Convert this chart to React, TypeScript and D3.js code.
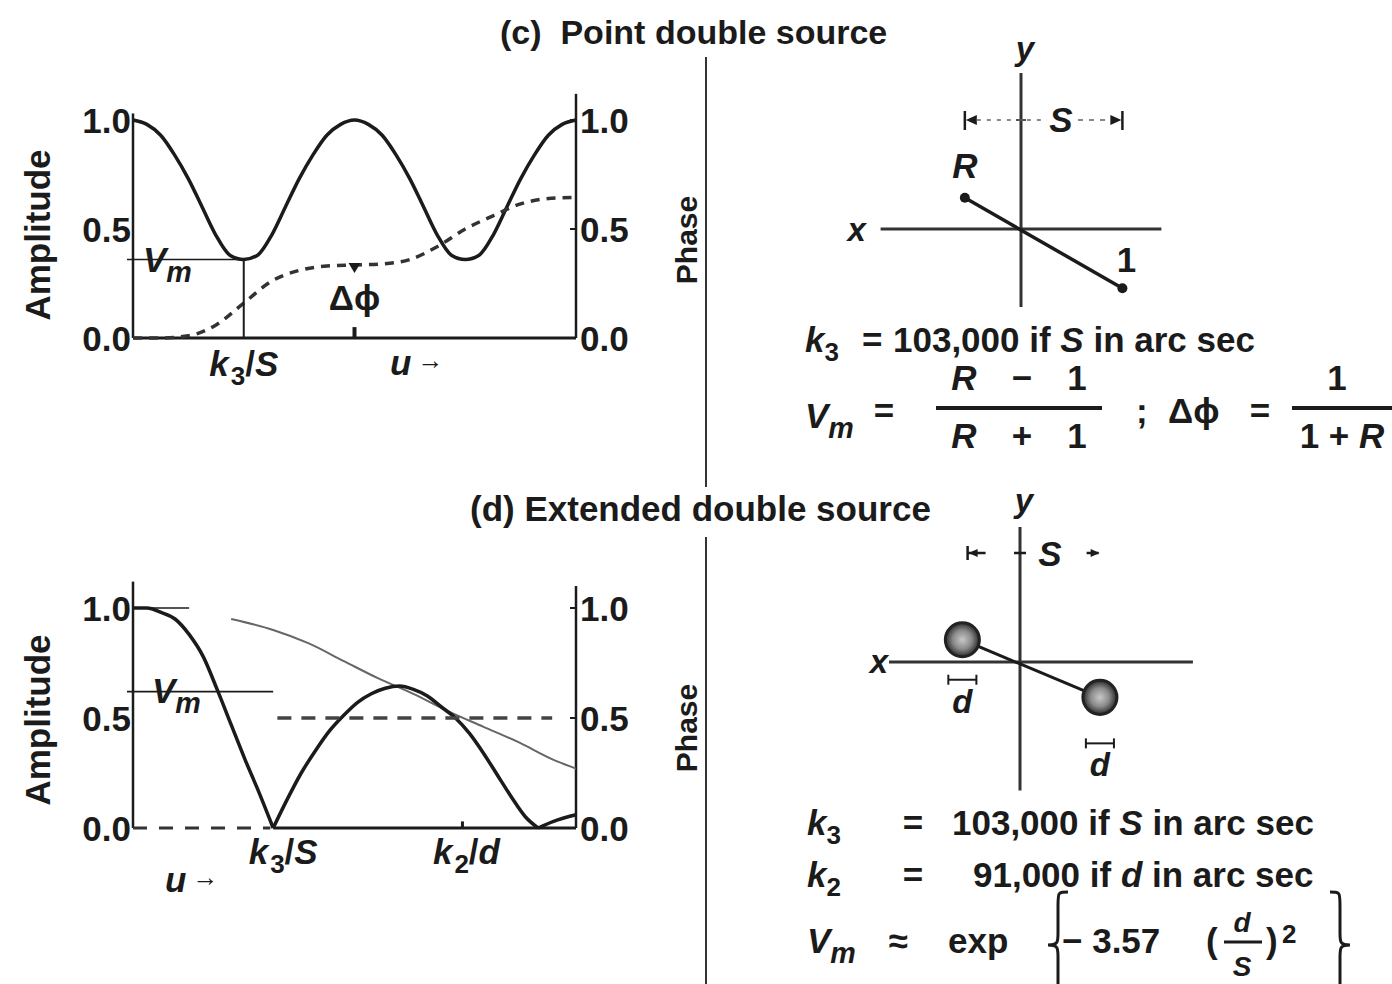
import React from "react";
import * as d3 from "d3";

const FONT = "'Liberation Sans', Arial, Helvetica, 'DejaVu Sans', sans-serif";
const INK = "#1b1b1b";

// (c) Point double source, u in units of k3/S
const cU = [0, 0.125, 0.25, 0.375, 0.5, 0.625, 0.75, 0.875, 1, 1.125, 1.25, 1.375, 1.5, 1.625, 1.75, 1.875, 2,
  2.125, 2.25, 2.375, 2.5, 2.625, 2.75, 2.875, 3, 3.125, 3.25, 3.375, 3.5, 3.625, 3.75, 3.875, 4];
const cAmplitude = [1.0, 0.98, 0.93, 0.84, 0.73, 0.6, 0.47, 0.38, 0.36, 0.38, 0.47, 0.6, 0.73, 0.84, 0.93, 0.98, 1.0,
  0.98, 0.93, 0.84, 0.73, 0.6, 0.47, 0.38, 0.36, 0.38, 0.47, 0.6, 0.73, 0.84, 0.93, 0.98, 1.0];
const cPhaseU = [0, 0.25, 0.5, 0.75, 1, 1.25, 1.5, 1.75, 2, 2.25, 2.5, 2.75, 3, 3.25, 3.5, 3.75, 4];
const cPhase = [0, 0, 0.01, 0.06, 0.16, 0.26, 0.31, 0.33, 0.335, 0.34, 0.36, 0.42, 0.5, 0.56, 0.615, 0.64, 0.645];
const cVm = 0.36;
const cDeltaPhiU = 2;
const cDeltaPhi = 0.335;

// (d) Extended double source
const dU = [0, 0.1, 0.2, 0.3, 0.4, 0.5, 0.6, 0.7, 0.8, 0.9, 1.0, 1.1, 1.2, 1.3, 1.4, 1.5, 1.6, 1.7, 1.8, 1.9, 2.0,
  2.1, 2.2, 2.3, 2.4, 2.5, 2.6, 2.7, 2.8, 2.89, 3.0, 3.16];
const dAmplitude = [1.0, 1.0, 0.98, 0.95, 0.88, 0.78, 0.63, 0.47, 0.31, 0.16, 0, 0.13, 0.25, 0.35, 0.44, 0.51, 0.57,
  0.61, 0.635, 0.645, 0.63, 0.6, 0.55, 0.5, 0.43, 0.34, 0.24, 0.14, 0.05, 0, 0.03, 0.06];
const dEnvelopeU = [0.7, 1.0, 1.25, 1.5, 1.75, 2.0, 2.25, 2.5, 2.75, 3.0, 3.16];
const dEnvelope = [0.95, 0.9, 0.84, 0.76, 0.68, 0.61, 0.53, 0.46, 0.39, 0.31, 0.27];
const dPhaseLowU = [0, 0.98];
const dPhaseHighU = [1.03, 2.99];
const dPhaseLevels = [0, 0.5];
const dVm = 0.62;
const dK2U = 2.35;

const ampTicks = [0, 0.5, 1];

// sky-plane sketches, in units of the separation S
const cSources = [
  { label: "R", x: -0.36, y: 0.2 },
  { label: "1", x: 0.65, y: -0.38 },
];
const dSources = [
  { x: -0.44, y: 0.17 },
  { x: 0.61, y: -0.27 },
];
const dSourceSize = 0.13;

const txt = { fontFamily: FONT, fontWeight: "bold", fill: INK } as const;

const pairs = (us: number[], vs: number[]) => us.map((u, i) => [u, vs[i]] as [number, number]);

function brace(xTip: number, xOuter: number, yTop: number, yBot: number) {
  const xm = (xTip + xOuter) / 2;
  const ym = (yTop + yBot) / 2;
  return `M${xOuter},${yTop} C${xm},${yTop} ${xm},${yTop} ${xm},${yTop + 14} L${xm},${ym - 12} C${xm},${ym - 3} ${xm},${ym} ${xTip},${ym} C${xm},${ym} ${xm},${ym + 3} ${xm},${ym + 12} L${xm},${yBot - 14} C${xm},${yBot} ${xm},${yBot} ${xOuter},${yBot}`;
}

function VmLabel({ x, y, size = 35 }: { x: number; y: number; size?: number }) {
  return (
    <text x={x} y={y} {...txt} fontSize={size}>
      <tspan fontStyle="italic">V</tspan>
      <tspan fontStyle="italic" fontSize={size * 0.82} dy={size * 0.28}>m</tspan>
    </text>
  );
}

function KLabel({ x, y, sub, den, anchor = "middle" }: { x: number; y: number; sub: string; den: string; anchor?: string }) {
  return (
    <text x={x} y={y} {...txt} fontSize={35} textAnchor={anchor}>
      <tspan fontStyle="italic">k</tspan>
      <tspan fontSize={26} dy={9} dx={2}>{sub}</tspan>
      <tspan dy={-9}>/</tspan>
      <tspan fontStyle="italic">{den}</tspan>
    </text>
  );
}

function ULabel({ x, y }: { x: number; y: number }) {
  return (
    <text x={x} y={y} {...txt} fontSize={35}>
      <tspan fontStyle="italic">u</tspan>
      <tspan fontSize={26} dx={6} dy={-6}>→</tspan>
    </text>
  );
}

export default function App() {
  // scales for the two amplitude/phase plots
  const cX = d3.scaleLinear().domain([0, 4]).range([133, 576]);
  const cY = d3.scaleLinear().domain([0, 1]).range([338, 120]);
  const dX = d3.scaleLinear().domain([0, 3.16]).range([133, 576]);
  const dY = d3.scaleLinear().domain([0, 1]).range([828, 608]);

  const cLine = d3.line<[number, number]>().x((d) => cX(d[0])).y((d) => cY(d[1]));
  const dLine = d3.line<[number, number]>().x((d) => dX(d[0])).y((d) => dY(d[1]));

  const cAmpPath = cLine.curve(d3.curveMonotoneX)(pairs(cU, cAmplitude)) || "";
  const cPhasePath = cLine.curve(d3.curveMonotoneX)(pairs(cPhaseU, cPhase)) || "";

  // split the extended-source visibility into lobes at its zeros
  const dPts = pairs(dU, dAmplitude);
  const zeros = dPts.map((p, i) => (p[1] === 0 ? i : -1)).filter((i) => i >= 0);
  const cuts = [0, ...zeros, dPts.length - 1];
  const dLobes = d3.pairs(cuts).map(([a, b]) => dLine.curve(d3.curveMonotoneX)(dPts.slice(a, b + 1)) || "");
  const dEnvPath = dLine.curve(d3.curveMonotoneX)(pairs(dEnvelopeU, dEnvelope)) || "";

  // sky-plane scales
  const cSx = d3.scaleLinear().domain([0, 1]).range([1021, 1177]);
  const cSy = d3.scaleLinear().domain([0, 1]).range([229, 73]);
  const dSx = d3.scaleLinear().domain([0, 1]).range([1020, 1151]);
  const dSy = d3.scaleLinear().domain([0, 1]).range([662, 531]);

  const fmt = d3.format(".1f");
  const thick = 3.5;

  return (
    <svg width={1392} height={984} style={{ position: "absolute", left: 0, top: 0, background: "#fff" }}>
      <defs>
        <radialGradient id="blob">
          <stop offset="0%" stopColor="#c8c8c8" />
          <stop offset="55%" stopColor="#8a8a8a" />
          <stop offset="100%" stopColor="#2a2a2a" />
        </radialGradient>
      </defs>
      <rect width={1392} height={984} fill="#fff" />

      {/* titles and divider */}
      <text x={500} y={44} {...txt} fontSize={34}>{"(c)\u00a0 Point double source"}</text>
      <text x={470} y={521} {...txt} fontSize={35}>(d) Extended double source</text>
      <line x1={706} x2={706} y1={57} y2={487} stroke="#333" strokeWidth={2} />
      <line x1={706} x2={706} y1={537} y2={984} stroke="#333" strokeWidth={2} />

      {/* ---------- (c) plot ---------- */}
      <g>
        <line x1={cX(0)} x2={cX(0)} y1={cY(1.03)} y2={cY(0)} stroke={INK} strokeWidth={2.5} />
        <line x1={cX(4)} x2={cX(4)} y1={cY(1.12)} y2={cY(0)} stroke={INK} strokeWidth={2.5} />
        <line x1={cX(0)} x2={cX(4)} y1={cY(0)} y2={cY(0)} stroke={INK} strokeWidth={3} />
        {ampTicks.map((t) => (
          <g key={t}>
            <text x={cX(0) - 2} y={cY(t) + 13} {...txt} fontSize={35} textAnchor="end">{fmt(t)}</text>
            <text x={cX(4) + 4} y={cY(t) + 13} {...txt} fontSize={35}>{fmt(t)}</text>
            <line x1={cX(4) - 6} x2={cX(4)} y1={cY(t)} y2={cY(t)} stroke={INK} strokeWidth={2} />
          </g>
        ))}
        <path d={cAmpPath} fill="none" stroke={INK} strokeWidth={thick} />
        <path d={cPhasePath} fill="none" stroke="#333" strokeWidth={3.5} strokeDasharray="9 7" />
        {/* Vm marker and k3/S drop line */}
        <line x1={cX(0) - 6} x2={cX(1)} y1={cY(cVm)} y2={cY(cVm)} stroke={INK} strokeWidth={1.6} />
        <line x1={cX(1)} x2={cX(1)} y1={cY(cVm)} y2={cY(0)} stroke={INK} strokeWidth={2} />
        <VmLabel x={143} y={272} />
        {/* delta phi marker */}
        <path
          d={`M${cX(cDeltaPhiU) - 6},${cY(cDeltaPhi) - 2} L${cX(cDeltaPhiU) + 6},${cY(cDeltaPhi) - 2} L${cX(cDeltaPhiU)},${cY(cDeltaPhi) + 8} Z`}
          fill={INK}
        />
        <line x1={cX(cDeltaPhiU)} x2={cX(cDeltaPhiU)} y1={cY(0.05)} y2={cY(0)} stroke={INK} strokeWidth={4} />
        <text x={cX(cDeltaPhiU)} y={310} {...txt} fontSize={35} textAnchor="middle">Δϕ</text>
        <KLabel x={cX(1)} y={376} sub="3" den="S" />
        <ULabel x={390} y={375} />
        <text transform="translate(50,235) rotate(-90)" {...txt} fontSize={35} textAnchor="middle">Amplitude</text>
        <text transform="translate(697,240) rotate(-90)" {...txt} fontSize={30} textAnchor="middle">Phase</text>
      </g>

      {/* ---------- (c) sky sketch ---------- */}
      <g>
        <line x1={cSx(0)} x2={cSx(0)} y1={cSy(1)} y2={cSy(-0.5)} stroke="#333" strokeWidth={3} />
        <line x1={cSx(-0.9)} x2={cSx(0.9)} y1={cSy(0)} y2={cSy(0)} stroke="#333" strokeWidth={3} />
        <text x={cSx(0) + 4} y={60} {...txt} fontSize={33} fontStyle="italic" textAnchor="middle">y</text>
        <text x={cSx(-0.9) - 24} y={241} {...txt} fontSize={33} fontStyle="italic" textAnchor="middle">x</text>
        <line
          x1={cSx(cSources[0].x)}
          y1={cSy(cSources[0].y)}
          x2={cSx(cSources[1].x)}
          y2={cSy(cSources[1].y)}
          stroke={INK}
          strokeWidth={3.5}
        />
        {cSources.map((s) => (
          <circle key={s.label} cx={cSx(s.x)} cy={cSy(s.y)} r={5} fill={INK} />
        ))}
        <text x={cSx(cSources[0].x)} y={178} {...txt} fontSize={35} fontStyle="italic" textAnchor="middle">R</text>
        <text x={cSx(cSources[1].x) + 4} y={272} {...txt} fontSize={35} textAnchor="middle">1</text>
        {/* separation S */}
        <line x1={cSx(cSources[0].x)} x2={cSx(cSources[0].x)} y1={111} y2={130} stroke={INK} strokeWidth={2.5} />
        <path d={`M${cSx(cSources[0].x) + 1},120 L${cSx(cSources[0].x) + 12},115 L${cSx(cSources[0].x) + 12},125 Z`} fill={INK} />
        <line x1={cSx(cSources[0].x) + 12} x2={1047} y1={120} y2={120} stroke="#888" strokeWidth={2} strokeDasharray="4 6" />
        <line x1={cSx(0) - 5} x2={cSx(0) + 5} y1={120} y2={120} stroke="#555" strokeWidth={2} />
        <text x={1061} y={132} {...txt} fontSize={35} fontStyle="italic" textAnchor="middle">S</text>
        <line x1={1078} x2={cSx(cSources[1].x) - 12} y1={120} y2={120} stroke="#888" strokeWidth={2} strokeDasharray="5 6" />
        <path d={`M${cSx(cSources[1].x) - 1},120 L${cSx(cSources[1].x) - 12},115 L${cSx(cSources[1].x) - 12},125 Z`} fill={INK} />
        <line x1={cSx(cSources[1].x)} x2={cSx(cSources[1].x)} y1={111} y2={130} stroke={INK} strokeWidth={2.5} />
      </g>

      {/* ---------- (c) formulas ---------- */}
      <g>
        <text x={805} y={352} {...txt} fontSize={35}>
          <tspan fontStyle="italic">k</tspan>
          <tspan fontSize={26} dy={9}>3</tspan>
          <tspan x={862} dy={-9}>=</tspan>
          <tspan x={893}>103,000 if </tspan>
          <tspan fontStyle="italic">S</tspan>
          <tspan> in arc sec</tspan>
        </text>
        <VmLabel x={805} y={428} />
        <text x={884} y={423} {...txt} fontSize={35} textAnchor="middle">=</text>
        {["R", "−", "1"].map((s, i) => (
          <text key={"n" + i} x={[964, 1022, 1077][i]} y={390} {...txt} fontSize={35} textAnchor="middle" fontStyle={s === "R" ? "italic" : "normal"}>{s}</text>
        ))}
        <line x1={936} x2={1102} y1={408} y2={408} stroke={INK} strokeWidth={4} />
        {["R", "+", "1"].map((s, i) => (
          <text key={"d" + i} x={[964, 1022, 1077][i]} y={448} {...txt} fontSize={35} textAnchor="middle" fontStyle={s === "R" ? "italic" : "normal"}>{s}</text>
        ))}
        <text x={1136} y={423} {...txt} fontSize={35}>;</text>
        <text x={1168} y={423} {...txt} fontSize={35}>Δϕ</text>
        <text x={1260} y={423} {...txt} fontSize={35} textAnchor="middle">=</text>
        <text x={1337} y={390} {...txt} fontSize={35} textAnchor="middle">1</text>
        <line x1={1292} x2={1392} y1={408} y2={408} stroke={INK} strokeWidth={4} />
        <text x={1342} y={448} {...txt} fontSize={35} textAnchor="middle">
          1 + <tspan fontStyle="italic">R</tspan>
        </text>
      </g>

      {/* ---------- (d) plot ---------- */}
      <g>
        <line x1={dX(0)} x2={dX(0)} y1={dY(1.12)} y2={dY(0)} stroke={INK} strokeWidth={2.5} />
        <line x1={dX(3.16)} x2={dX(3.16)} y1={dY(1.1)} y2={dY(0)} stroke={INK} strokeWidth={2.5} />
        <line x1={dX(1)} x2={dX(3.16)} y1={dY(0)} y2={dY(0)} stroke={INK} strokeWidth={3} />
        <line x1={dX(dK2U)} x2={dX(dK2U)} y1={dY(0.03)} y2={dY(0)} stroke={INK} strokeWidth={3} />
        {ampTicks.map((t) => (
          <g key={t}>
            <text x={dX(0) - 2} y={dY(t) + 13} {...txt} fontSize={35} textAnchor="end">{fmt(t)}</text>
            <text x={dX(3.16) + 4} y={dY(t) + 13} {...txt} fontSize={35}>{fmt(t)}</text>
            <line x1={dX(3.16) - 6} x2={dX(3.16)} y1={dY(t)} y2={dY(t)} stroke={INK} strokeWidth={2} />
          </g>
        ))}
        <path d={dEnvPath} fill="none" stroke="#666" strokeWidth={2} />
        {dLobes.map((p, i) => (
          <path key={i} d={p} fill="none" stroke={INK} strokeWidth={thick} />
        ))}
        <line x1={dX(dPhaseLowU[0])} x2={dX(dPhaseLowU[1])} y1={dY(dPhaseLevels[0])} y2={dY(dPhaseLevels[0])}
          stroke="#333" strokeWidth={3} strokeDasharray="14 12" />
        <line x1={dX(dPhaseHighU[0])} x2={dX(dPhaseHighU[1])} y1={dY(dPhaseLevels[1])} y2={dY(dPhaseLevels[1])}
          stroke="#444" strokeWidth={3.5} strokeDasharray="14 10" />
        {/* Vm marker */}
        <line x1={dX(0)} x2={dX(0.4)} y1={dY(1)} y2={dY(1)} stroke={INK} strokeWidth={1.6} />
        <line x1={dX(0) - 6} x2={dX(1)} y1={dY(dVm)} y2={dY(dVm)} stroke={INK} strokeWidth={1.6} />
        <VmLabel x={152} y={703} />
        <KLabel x={dX(1) + 10} y={864} sub="3" den="S" />
        <KLabel x={dX(dK2U) + 4} y={864} sub="2" den="d" />
        <ULabel x={165} y={892} />
        <text transform="translate(50,720) rotate(-90)" {...txt} fontSize={35} textAnchor="middle">Amplitude</text>
        <text transform="translate(697,728) rotate(-90)" {...txt} fontSize={30} textAnchor="middle">Phase</text>
      </g>

      {/* ---------- (d) sky sketch ---------- */}
      <g>
        <line x1={dSx(0)} x2={dSx(0)} y1={dSy(1.03)} y2={dSy(-0.98)} stroke="#333" strokeWidth={3} />
        <line x1={dSx(-1.0)} x2={dSx(1.32)} y1={dSy(0)} y2={dSy(0)} stroke="#333" strokeWidth={3} />
        <text x={dSx(0) + 4} y={512} {...txt} fontSize={33} fontStyle="italic" textAnchor="middle">y</text>
        <text x={dSx(-1.0) - 10} y={673} {...txt} fontSize={33} fontStyle="italic" textAnchor="middle">x</text>
        <line x1={dSx(dSources[0].x)} y1={dSy(dSources[0].y)} x2={dSx(dSources[1].x)} y2={dSy(dSources[1].y)}
          stroke={INK} strokeWidth={3} />
        {dSources.map((s, i) => (
          <circle key={i} cx={dSx(s.x)} cy={dSy(s.y)} r={dSx(dSourceSize) - dSx(0)} fill="url(#blob)" stroke="#222" strokeWidth={3} />
        ))}
        {dSources.map((s, i) => {
          const cx = dSx(s.x);
          const yb = dSy(s.y) + 40 + i * 6;
          const r = dSx(dSourceSize) - dSx(0) - 3;
          return (
            <g key={"w" + i}>
              <line x1={cx - r} x2={cx + r} y1={yb} y2={yb} stroke={INK} strokeWidth={2} />
              <line x1={cx - r} x2={cx - r} y1={yb - 5} y2={yb + 5} stroke={INK} strokeWidth={2} />
              <line x1={cx + r} x2={cx + r} y1={yb - 5} y2={yb + 5} stroke={INK} strokeWidth={2} />
              <text x={cx} y={yb + 33} {...txt} fontSize={33} fontStyle="italic" textAnchor="middle">d</text>
            </g>
          );
        })}
        {/* separation S */}
        <line x1={dSx(-0.4)} x2={dSx(-0.4)} y1={546} y2={560} stroke={INK} strokeWidth={2.5} />
        <line x1={dSx(-0.4)} x2={dSx(-0.4) + 18} y1={553} y2={553} stroke={INK} strokeWidth={2.5} />
        <path d={`M${dSx(-0.4) + 1},553 L${dSx(-0.4) + 10},549 L${dSx(-0.4) + 10},557 Z`} fill={INK} />
        <line x1={dSx(0) - 6} x2={dSx(0) + 6} y1={553} y2={553} stroke={INK} strokeWidth={2.5} />
        <text x={1050} y={566} {...txt} fontSize={35} fontStyle="italic" textAnchor="middle">S</text>
        <line x1={dSx(0.6) - 12} x2={dSx(0.6)} y1={553} y2={553} stroke={INK} strokeWidth={2.5} />
        <path d={`M${dSx(0.6) + 1},553 L${dSx(0.6) - 8},549 L${dSx(0.6) - 8},557 Z`} fill={INK} />
      </g>

      {/* ---------- (d) formulas ---------- */}
      <g>
        <text x={807} y={835} {...txt} fontSize={35}>
          <tspan fontStyle="italic">k</tspan>
          <tspan fontSize={26} dy={9}>3</tspan>
        </text>
        <text x={913} y={835} {...txt} fontSize={35} textAnchor="middle">=</text>
        <text x={952} y={835} {...txt} fontSize={35}>
          103,000 if <tspan fontStyle="italic">S</tspan> in arc sec
        </text>
        <text x={807} y={887} {...txt} fontSize={35}>
          <tspan fontStyle="italic">k</tspan>
          <tspan fontSize={26} dy={9}>2</tspan>
        </text>
        <text x={913} y={887} {...txt} fontSize={35} textAnchor="middle">=</text>
        <text x={973} y={887} {...txt} fontSize={35}>
          91,000 if <tspan fontStyle="italic">d</tspan> in arc sec
        </text>
        <VmLabel x={807} y={953} />
        <text x={898} y={953} {...txt} fontSize={35} textAnchor="middle">≈</text>
        <text x={948} y={953} {...txt} fontSize={35}>exp</text>
        <path d={brace(1048, 1068, 892, 998)} fill="none" stroke={INK} strokeWidth={3} />
        <text x={1062} y={953} {...txt} fontSize={35}>− 3.57</text>
        <text x={1206} y={953} {...txt} fontSize={35}>(</text>
        <text x={1242} y={932} {...txt} fontSize={28} fontStyle="italic" textAnchor="middle">d</text>
        <line x1={1224} x2={1262} y1={942} y2={942} stroke={INK} strokeWidth={3} />
        <text x={1242} y={976} {...txt} fontSize={28} fontStyle="italic" textAnchor="middle">S</text>
        <text x={1266} y={953} {...txt} fontSize={35}>)</text>
        <text x={1282} y={943} {...txt} fontSize={26}>2</text>
        <path d={brace(1350, 1330, 892, 998)} fill="none" stroke={INK} strokeWidth={3} />
      </g>
    </svg>
  );
}
